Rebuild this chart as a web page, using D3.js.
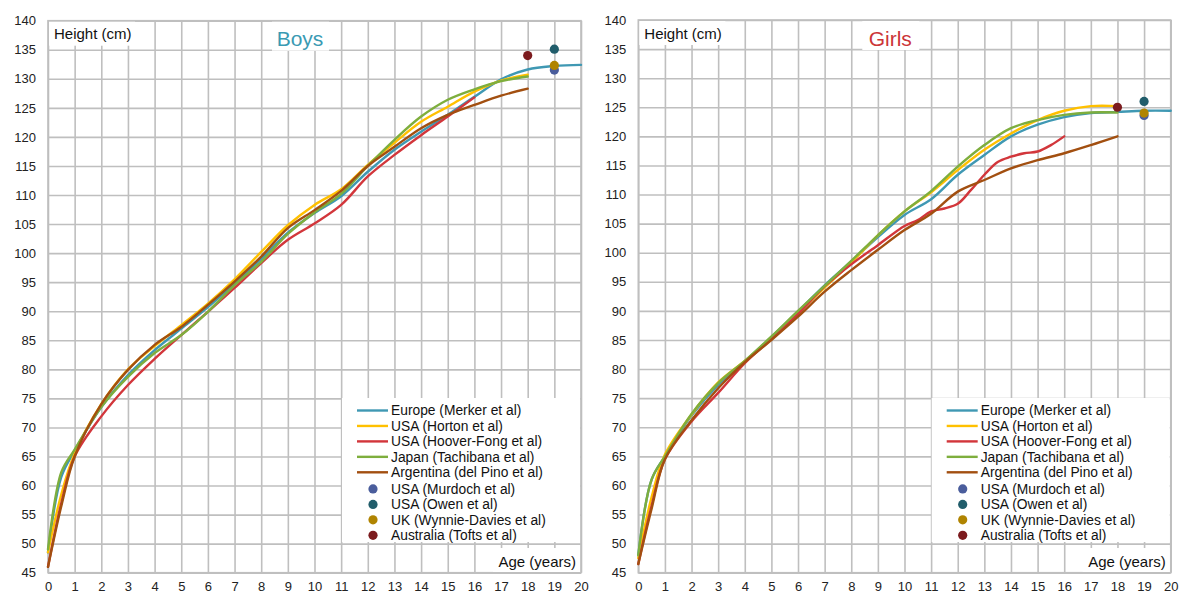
<!DOCTYPE html>
<html>
<head>
<meta charset="utf-8">
<script src="https://cdn.jsdelivr.net/npm/d3@7"></script>
<style>
  html, body { margin: 0; padding: 0; background: #fff; }
  svg { display: block; font-family: "Liberation Sans", Arial, sans-serif; }
</style>
</head>
<body>
<svg id="chart" width="1179" height="594"></svg>
<script>
// Age grids (years) used by the reference curves
const agesTo16 = [0, 0.5, 1, 2, 3, 4, 5, 6, 7, 8, 9, 10, 11, 12, 13, 14, 15, 16];
const agesTo18 = agesTo16.concat([17, 18]);
const agesTo20 = agesTo18.concat([19, 20]);
const agesHooverFongGirls = [0, 0.5, 1, 2, 3, 4, 5, 6, 7, 8, 9, 10, 10.5, 11, 11.5, 12, 12.5, 13, 13.5, 14, 14.5, 15, 15.5, 16];

// Boys: mean height (cm)
const boysEurope      = [48.5, 61.5, 66, 73.5, 79, 83.3, 87, 90.7, 94.8, 99, 103.5, 106.9, 109.8, 114, 117.8, 120.9, 123.8, 126.9, 129.9, 131.6, 132.2, 132.4];
const boysHorton      = [48.5, 58.5, 65.5, 74, 80, 84, 87.6, 91.3, 95.5, 100.2, 104.8, 108.3, 111, 115.2, 119, 122.6, 125.2, 127.8, 129.7, 130.7];
const boysHooverFong  = [46, 57, 65, 71.9, 77.3, 81.8, 85.9, 89.9, 94, 98.3, 102.3, 105.1, 108.3, 113.2, 116.9, 120.3, 123.5, 126.8];
const boysJapan       = [49, 62.3, 66.2, 73.5, 78.7, 82.8, 85.9, 89.9, 94.5, 98.5, 103.3, 107, 110.2, 115, 119.5, 123.5, 126.4, 128.2, 129.6, 130.4];
const boysArgentina   = [46, 56.5, 65, 74, 79.9, 84.2, 87.3, 91.1, 95.1, 99.4, 104.3, 107.4, 110.7, 115, 118.3, 121.5, 123.8, 125.5, 127.1, 128.3];

// Girls: mean height (cm)
const girlsEurope     = [48, 61, 65, 72, 77.3, 81.3, 85.5, 89.9, 94.4, 98.5, 102.7, 106.5, 109.2, 113.4, 116.8, 120, 122, 123.3, 124, 124.2, 124.4, 124.4];
const girlsHorton     = [47.5, 58, 65.3, 72.2, 77.7, 81.4, 85.3, 89.6, 94, 98.3, 103, 107.1, 110.4, 114.2, 117.7, 120.5, 122.8, 124.4, 125.2, 125.2];
const girlsHooverFong = [46.5, 56.5, 64.5, 71, 75.9, 81, 85.2, 89.5, 94.2, 98, 101.3, 104.6, 105.6, 107.1, 107.6, 108.4, 110.8, 113.4, 115.6, 116.5, 117.1, 117.4, 118.5, 120];
const girlsJapan      = [48, 61, 65, 72.3, 77.6, 81.4, 85.6, 90, 94.3, 98.6, 103, 107.1, 110.6, 114.8, 118.5, 121.4, 122.8, 123.7, 124.1, 124.1];
const girlsArgentina  = [46.5, 56, 64.5, 71.2, 76.7, 81.2, 85, 89, 93.3, 97, 100.5, 103.9, 106.7, 110.5, 112.5, 114.5, 115.9, 117.1, 118.5, 120];

// Single-point adult studies: [age, height]
const boysMurdoch  = [19, 131.5];
const boysOwen     = [19, 135.1];
const boysWynnie   = [19, 132.3];
const boysTofts    = [18, 134];
const girlsMurdoch = [19, 123.6];
const girlsOwen    = [19, 126];
const girlsWynnie  = [19, 124];
const girlsTofts   = [18, 125];

// Axis ticks
const xTicks = d3.range(0, 21, 1);
const yTicks = d3.range(45, 141, 5);

const lineNames = ["Europe (Merker et al)", "USA (Horton et al)", "USA (Hoover-Fong et al)", "Japan (Tachibana et al)", "Argentina (del Pino et al)"];
const dotNames  = ["USA (Murdoch et al)", "USA (Owen et al)", "UK (Wynnie-Davies et al)", "Australia (Tofts et al)"];
const lineColors = ["#3f98b3", "#ffc000", "#d2363b", "#7eae3d", "#a24f10"];
const dotColors  = ["#4a5d9c", "#215d6b", "#b08400", "#7c1b1e"];

const panels = [
  {
    title: "Boys", titleColor: "#3a9ab3",
    left: 48, right: 581, top: 20.7, bottom: 572.7,
    lines: [[agesTo20, boysEurope], [agesTo18, boysHorton], [agesTo16, boysHooverFong], [agesTo18, boysJapan], [agesTo18, boysArgentina]],
    dots: [boysMurdoch, boysOwen, boysWynnie, boysTofts]
  },
  {
    title: "Girls", titleColor: "#cc3538",
    left: 638.3, right: 1170.7, top: 20, bottom: 572.7,
    lines: [[agesTo20, girlsEurope], [agesTo18, girlsHorton], [agesHooverFongGirls, girlsHooverFong], [agesTo18, girlsJapan], [agesTo18, girlsArgentina]],
    dots: [girlsMurdoch, girlsOwen, girlsWynnie, girlsTofts]
  }
];

const svg = d3.select("#chart");
const gridColor = "#bfbfbf";

panels.forEach(p => {
  const x = d3.scaleLinear().domain([0, 20]).range([p.left, p.right]);
  const y = d3.scaleLinear().domain([45, 140]).range([p.bottom, p.top]);
  const w = p.right - p.left, h = p.bottom - p.top;
  const g = svg.append("g");

  // Grid + tick labels
  const yAxis = g.append("g")
    .attr("transform", `translate(${p.left},0)`)
    .call(d3.axisLeft(y).tickValues(yTicks).tickSize(-w).tickPadding(12).tickFormat(d3.format("d")));
  const xAxis = g.append("g")
    .attr("transform", `translate(0,${p.bottom})`)
    .call(d3.axisBottom(x).tickValues(xTicks).tickSize(-h).tickPadding(12).tickFormat(d3.format("d")));
  [yAxis, xAxis].forEach(a => {
    a.select(".domain").remove();
    a.selectAll(".tick line").attr("stroke", gridColor).attr("stroke-width", 1.6);
    a.selectAll(".tick text").attr("fill", "#222").style("font-size", "13px");
  });
  xAxis.selectAll(".tick text").attr("dy", null).attr("y", 18.3);

  g.append("rect")
    .attr("x", p.left).attr("y", p.top).attr("width", w).attr("height", h)
    .attr("fill", "none").attr("stroke", gridColor).attr("stroke-width", 1.6);

  // White label panels over the grid
  g.append("rect").attr("x", p.left + 1).attr("y", p.top + 1).attr("width", 86).attr("height", 24).attr("fill", "#fff");
  g.append("rect").attr("x", p.left + 224).attr("y", p.top + 1).attr("width", 57).attr("height", 29).attr("fill", "#fff");
  g.append("rect").attr("x", p.right - 239).attr("y", 398).attr("width", 238).attr("height", 144).attr("fill", "#fff");
  g.append("rect").attr("x", p.right - 88).attr("y", 548).attr("width", 87).attr("height", 24).attr("fill", "#fff");

  g.append("text").attr("x", p.left + 6).attr("y", 39).attr("fill", "#111").style("font-size", "15px").text("Height (cm)");
  g.append("text").attr("x", p.left + 252).attr("y", 46).attr("text-anchor", "middle")
    .attr("fill", p.titleColor).style("font-size", "21px").text(p.title);
  g.append("text").attr("x", p.right - 5).attr("y", 567).attr("text-anchor", "end")
    .attr("fill", "#111").style("font-size", "15px").text("Age (years)");

  // Growth curves
  const line = d3.line().curve(d3.curveCatmullRom.alpha(0.5));
  p.lines.forEach(([ages, vals], i) => {
    g.append("path")
      .attr("d", line(ages.map((a, k) => [x(a), y(vals[k])])))
      .attr("fill", "none").attr("stroke", lineColors[i]).attr("stroke-width", 2.4)
      .attr("stroke-linejoin", "round").attr("stroke-linecap", "round");
  });

  // Adult single-study means
  p.dots.forEach((d, i) => {
    g.append("circle").attr("cx", x(d[0])).attr("cy", y(d[1])).attr("r", 4.6).attr("fill", dotColors[i]);
  });

  // Legend
  const lx = p.right - 224, ly = 410.5, step = 15.45;
  const leg = g.append("g");
  lineNames.forEach((name, i) => {
    const yy = ly + i * step;
    leg.append("line").attr("x1", lx).attr("x2", lx + 31).attr("y1", yy).attr("y2", yy)
      .attr("stroke", lineColors[i]).attr("stroke-width", 2.4);
    leg.append("text").attr("x", lx + 34).attr("y", yy).attr("dy", "0.35em")
      .attr("fill", "#111").style("font-size", "13.8px").text(name);
  });
  dotNames.forEach((name, i) => {
    const yy = ly + (i + 5) * step + 1.2;
    leg.append("circle").attr("cx", lx + 16).attr("cy", yy).attr("r", 4.6).attr("fill", dotColors[i]);
    leg.append("text").attr("x", lx + 34).attr("y", yy).attr("dy", "0.35em")
      .attr("fill", "#111").style("font-size", "13.8px").text(name);
  });
});
</script>
</body>
</html>
